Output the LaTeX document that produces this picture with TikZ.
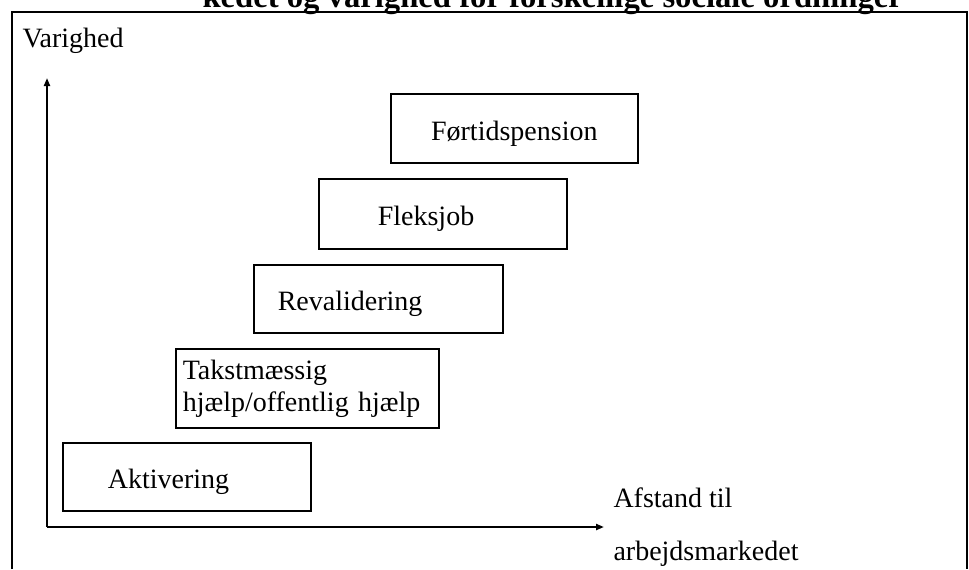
\documentclass[tikz,border=0pt]{standalone}
\usepackage{fontspec}
\setmainfont{Liberation Serif}
\usetikzlibrary{arrows.meta}

\tikzset{every picture/.style={line width=0.75pt}}
\tikzset{
  stepbox/.style={draw, line width=1.2pt, anchor=north west, inner ysep=0pt, align=left, font=\fontsize{21}{24}\selectfont},
  onerow/.style={text height=18pt, text depth=0pt},
  axislabel/.style={anchor=base west, inner sep=0pt, font=\fontsize{21}{24}\selectfont},
  axisline/.style={line width=1.5pt, -{Triangle[length=6pt, width=4.5pt]}},
}

\begin{document}
\begin{tikzpicture}[x=0.75pt,y=0.75pt,yscale=-1,xscale=1]
        \useasboundingbox (0,0) rectangle (969,569);

        % Title (cut at the top)
        \node (title) [anchor=base west, inner sep=0pt, font=\fontsize{24.5}{28}\selectfont\bfseries] at (202,7) {kedet og varighed for forskellige sociale ordninger};

        %Frame
        \draw [line width=2pt]  (12,569) -- (12,12) -- (967,12) -- (967,569) ;

        %Axes
        \coordinate (origin) at (47,527);
        \coordinate (ytip) at (47,78);
        \coordinate (xtip) at (604,527);
        \draw [axisline]  (origin) -- (ytip) ;
        \draw [axisline]  (origin) -- (xtip) ;

        % Text Node
        \node (vlabel) [axislabel] at (22,47) {Varighed};
        % Text Node
        \node (xlabel) [axislabel] at (613,507) {Afstand til};
        % Text Node
        \node (xlabeltwo) [axislabel] at (613,560) {arbejdsmarkedet};

        % Boxes
        \node (aktiv) [stepbox, onerow, minimum width=186pt, minimum height=51pt, inner xsep=33.75pt, text width=118.5pt] at (62,442) {Aktivering};
        \node (takst) [stepbox, minimum width=197.25pt, minimum height=59.25pt, inner xsep=5.25pt, text width=186.75pt] at (175,348) {Takstmæssig\\hjælp/offentlig hjælp};
        \node (reval) [stepbox, onerow, minimum width=186.75pt, minimum height=51pt, inner xsep=18pt, text width=150.75pt] at (253,264) {Revalidering};
        \node (fleks) [stepbox, onerow, minimum width=186pt, minimum height=52.5pt, inner xsep=44.25pt, text width=97.5pt] at (318,178) {Fleksjob};
        \node (foert) [stepbox, onerow, align=center, minimum width=185.25pt, minimum height=51.75pt, inner xsep=3pt, text width=179.25pt] at (390,93) {Førtidspension};

\end{tikzpicture}
\end{document}
